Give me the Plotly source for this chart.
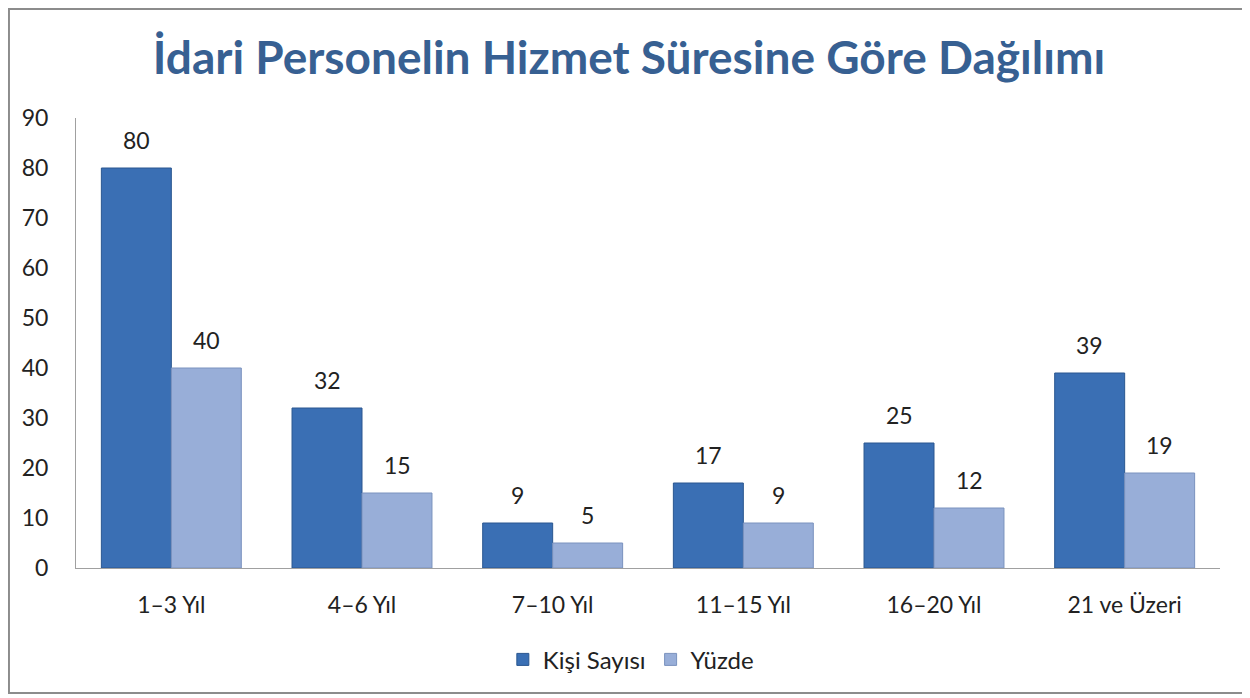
import plotly.graph_objects as go

categories = ["1–3 Yıl", "4–6 Yıl", "7–10 Yıl", "11–15 Yıl", "16–20 Yıl", "21 ve Üzeri"]
kisi_sayisi = [80, 32, 9, 17, 25, 39]
yuzde = [40, 15, 5, 9, 12, 19]
y_ticks = [0, 10, 20, 30, 40, 50, 60, 70, 80, 90]

FONT = "Lato"
LABEL_FONT = dict(family=FONT, size=23, color="#222222")

fig = go.Figure()
fig.add_trace(go.Bar(
    x=categories, y=kisi_sayisi, name="Kişi Sayısı",
    marker=dict(color="#3A6FB4", line=dict(color="#2A5790", width=1)),
))
fig.add_trace(go.Bar(
    x=categories, y=yuzde, name="Yüzde",
    marker=dict(color="#98AED8", line=dict(color="#7A92BE", width=1)),
))

annotations = []
for series, shift in ((kisi_sayisi, -35), (yuzde, 35)):
    for cat, val in zip(categories, series):
        annotations.append(dict(x=cat, y=val, xref="x", yref="y", text=str(val),
                                showarrow=False, xshift=shift, yshift=28,
                                font=LABEL_FONT))

fig.update_layout(
    width=1242, height=690,
    margin=dict(l=68, r=30, t=110, b=130),
    paper_bgcolor="white", plot_bgcolor="white",
    barmode="group", bargap=0.266, bargroupgap=0,
    title=dict(text="<b>İdari Personelin Hizmet Süresine Göre Dağılımı</b>",
               x=0.5, xanchor="center", y=0.9275, yanchor="middle",
               font=dict(family=FONT, size=46, color="#376092")),
    font=dict(family=FONT, size=22, color="#333333"),
    legend=dict(orientation="h", x=0.485, xanchor="center", y=-0.204, yanchor="middle",
                font=dict(family=FONT, size=24, color="#222222"),
                itemwidth=30, traceorder="normal"),
    xaxis=dict(showline=True, linecolor="#A0A0A0", linewidth=1, ticks="",
               showgrid=False, ticklabelstandoff=16,
               tickfont=dict(family=FONT, size=23, color="#222222")),
    yaxis=dict(range=[0, 90], tickvals=y_ticks, showline=True, linecolor="#A0A0A0",
               linewidth=1, showgrid=False, zeroline=False, ticks="",
               ticklabelstandoff=22,
               tickfont=dict(family=FONT, size=23, color="#222222")),
    annotations=annotations,
    shapes=[dict(type="rect", xref="paper", yref="paper",
                 x0=-0.0586, x1=1.0210, y0=-0.2778, y1=1.2422,
                 line=dict(color="#8C8C8C", width=2), fillcolor="rgba(0,0,0,0)",
                 layer="below")],
)

fig.write_html("out.html")
